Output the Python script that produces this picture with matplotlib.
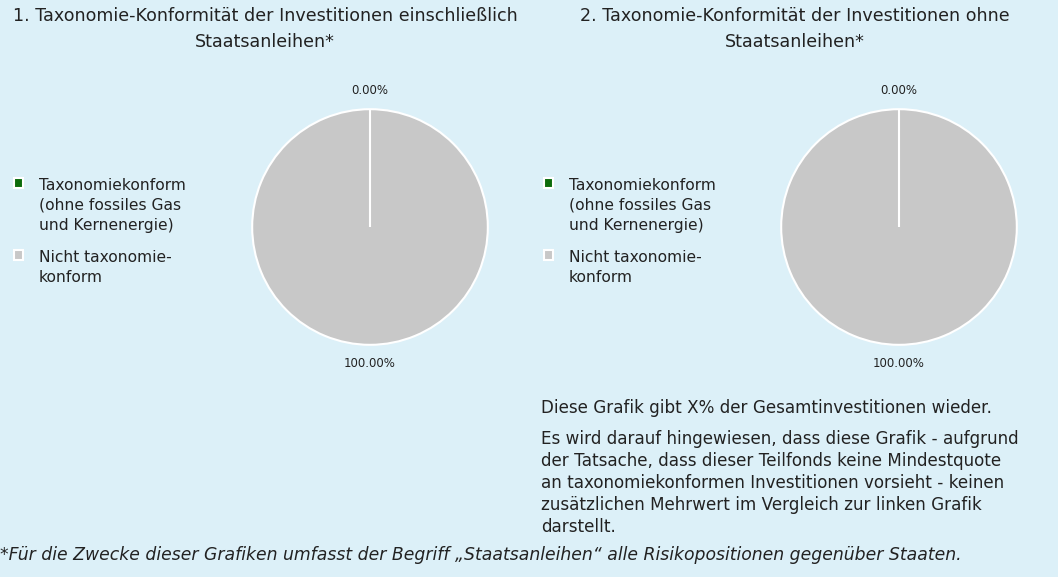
import matplotlib.pyplot as plt

plt.rcParams['font.family'] = ['DejaVu Sans']

# data
categories = ['Taxonomiekonform\n(ohne fossiles Gas\nund Kernenergie)', 'Nicht taxonomie-\nkonform']
colors = ['#0B6B0B', '#C8C8C8']
values_incl = [0.0, 100.0]
values_excl = [0.0, 100.0]
titles = ['1. Taxonomie-Konformität der Investitionen einschließlich\nStaatsanleihen*',
          '2. Taxonomie-Konformität der Investitionen ohne\nStaatsanleihen*']
note1 = 'Diese Grafik gibt X% der Gesamtinvestitionen wieder.'
note2 = ('Es wird darauf hingewiesen, dass diese Grafik - aufgrund\n'
         'der Tatsache, dass dieser Teilfonds keine Mindestquote\n'
         'an taxonomiekonformen Investitionen vorsieht - keinen\n'
         'zusätzlichen Mehrwert im Vergleich zur linken Grafik\n'
         'darstellt.')
footnote = '*Für die Zwecke dieser Grafiken umfasst der Begriff „Staatsanleihen“ alle Risikopositionen gegenüber Staaten.'

bg = '#DCF0F8'
txt = '#222222'
W, H = 1058, 577

fig = plt.figure(figsize=(W / 100, H / 100), dpi=100, facecolor=bg)

def px_axes(cx, cy, r):
    return fig.add_axes([(cx - r) / W, (H - cy - r) / H, 2 * r / W, 2 * r / H])

for i, (vals, cx) in enumerate([(values_incl, 370), (values_excl, 899)]):
    ax = px_axes(cx, 227, 119)
    ax.set_facecolor(bg)
    wedges, _, autot = ax.pie(vals, colors=colors, startangle=90, counterclock=False,
                              autopct='%.2f%%', pctdistance=1.155,
                              wedgeprops=dict(edgecolor='white', linewidth=1.5),
                              textprops=dict(fontsize=8.5, color=txt))
    wedges[0].set_zorder(5)
    ax.set_xlim(-1.01, 1.01)
    ax.set_ylim(-1.01, 1.01)
    ax.axis('off')

    lx = 14 / W if i == 0 else 544 / W
    leg = fig.legend(wedges, categories, loc='upper left', bbox_to_anchor=(lx, 1 - 178 / H),
                     frameon=False, fontsize=11.2, handlelength=0.6, handleheight=0.6,
                     labelspacing=1.15, handletextpad=1.0, labelcolor=txt,
                     borderpad=0, borderaxespad=0)
    for t in leg.get_texts():
        t.set_linespacing(1.4)
    # square aligned with the first line of each label
    for col in leg._legend_handle_box.get_children():
        for row in col.get_children():
            row.align = 'top'

fig.text(265 / W, 1 - 7 / H, titles[0], ha='center', va='top', fontsize=12.6, color=txt,
         linespacing=1.58)
fig.text(795 / W, 1 - 7 / H, titles[1], ha='center', va='top', fontsize=12.6, color=txt,
         linespacing=1.58)

fig.text(541 / W, 1 - 408 / H, note1, ha='left', va='center', fontsize=12.1, color=txt)
fig.text(541 / W, 1 - 430 / H, note2, ha='left', va='top', fontsize=12.1, color=txt,
         linespacing=1.28)
fig.text(0 / W, 1 - 555 / H, footnote, ha='left', va='center', fontsize=12.4, color=txt,
         style='italic')

fig.savefig('out.png', dpi=100, facecolor=bg)
